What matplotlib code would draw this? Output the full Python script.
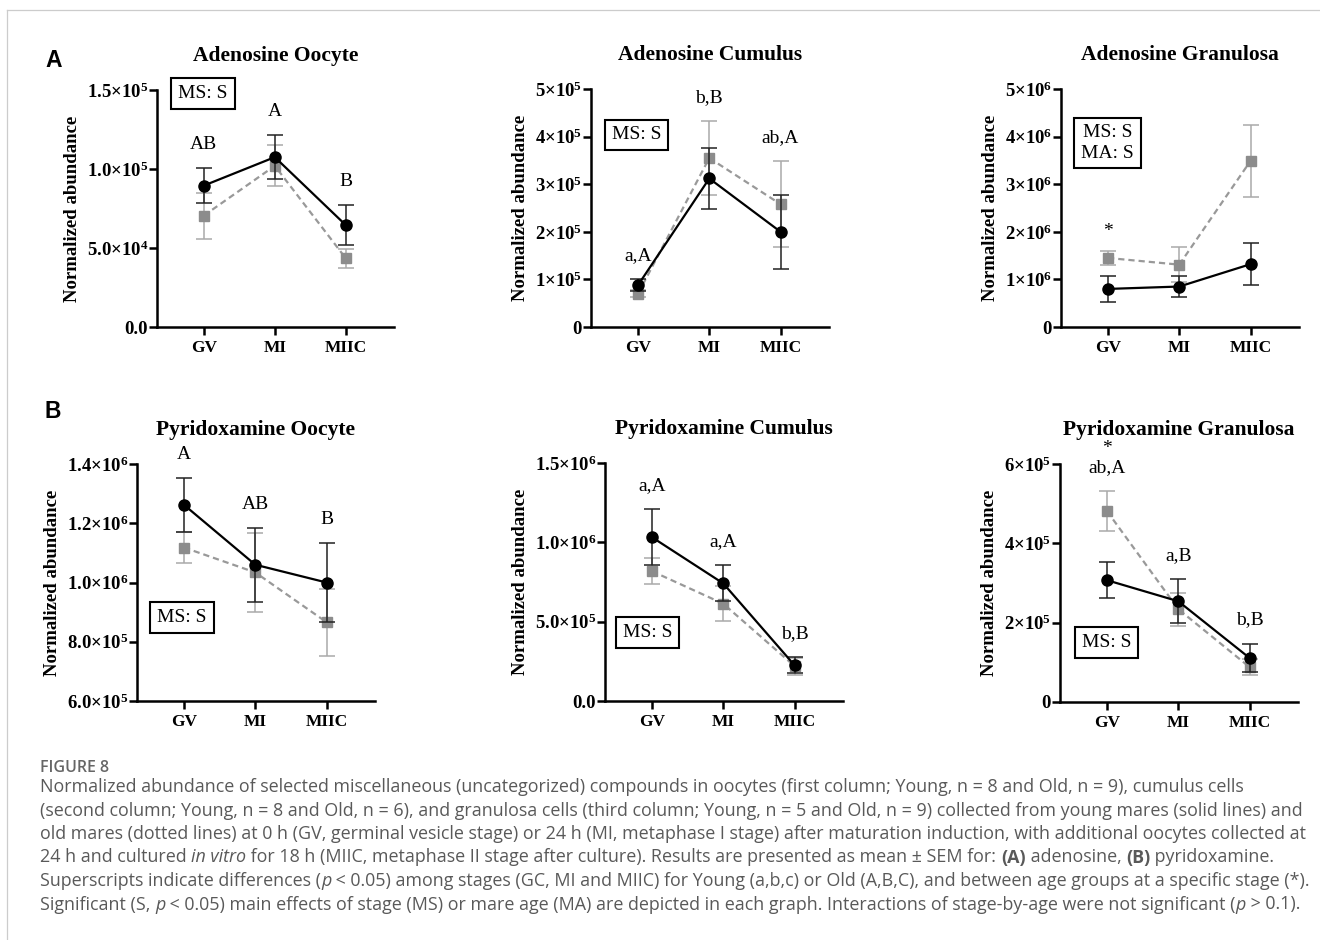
import numpy as np
import matplotlib
matplotlib.use('Agg')
import matplotlib.pyplot as plt
from matplotlib.lines import Line2D

plt.rcParams.update({
    'font.family': 'Liberation Serif',
    'mathtext.fontset': 'custom',
    'mathtext.rm': 'Liberation Serif:bold',
    'mathtext.it': 'Liberation Serif:bold:italic',
    'mathtext.bf': 'Liberation Serif:bold',
})

W, H = 1320, 940
stages = ['GV', 'MI', 'MIIC']

# ---- data (mean, SEM) ----
ado_oocyte_young = [89.5e3, 107.5e3, 64.5e3]
ado_oocyte_young_sem = [11e3, 14e3, 12.5e3]
ado_oocyte_old = [70.5e3, 102e3, 43.5e3]
ado_oocyte_old_sem = [14.5e3, 13e3, 6e3]

ado_cumulus_young = [88e3, 312e3, 200e3]
ado_cumulus_young_sem = [13e3, 65e3, 78e3]
ado_cumulus_old = [70e3, 355e3, 258e3]
ado_cumulus_old_sem = [8e3, 77e3, 90e3]

ado_granulosa_young = [0.80e6, 0.85e6, 1.32e6]
ado_granulosa_young_sem = [0.27e6, 0.22e6, 0.44e6]
ado_granulosa_old = [1.45e6, 1.31e6, 3.49e6]
ado_granulosa_old_sem = [0.15e6, 0.37e6, 0.76e6]

pyr_oocyte_young = [1.262e6, 1.060e6, 1.000e6]
pyr_oocyte_young_sem = [0.090e6, 0.125e6, 0.133e6]
pyr_oocyte_old = [1.118e6, 1.034e6, 0.866e6]
pyr_oocyte_old_sem = [0.052e6, 0.133e6, 0.113e6]

pyr_cumulus_young = [1.032e6, 0.741e6, 0.225e6]
pyr_cumulus_young_sem = [0.175e6, 0.113e6, 0.050e6]
pyr_cumulus_old = [0.818e6, 0.613e6, 0.220e6]
pyr_cumulus_old_sem = [0.082e6, 0.110e6, 0.053e6]

pyr_granulosa_young = [307e3, 254e3, 111e3]
pyr_granulosa_young_sem = [46e3, 55e3, 36e3]
pyr_granulosa_old = [481e3, 234e3, 88e3]
pyr_granulosa_old_sem = [50e3, 42e3, 20e3]

# y ticks and labels
ado_oocyte_ticks = [0, 5e4, 1e5, 1.5e5]
ado_oocyte_labels = ['0.0', '5.0×10$^{4}$', '1.0×10$^{5}$', '1.5×10$^{5}$']
ado_cumulus_ticks = [0, 1e5, 2e5, 3e5, 4e5, 5e5]
ado_cumulus_labels = ['0', '1×10$^{5}$', '2×10$^{5}$', '3×10$^{5}$', '4×10$^{5}$', '5×10$^{5}$']
ado_granulosa_ticks = [0, 1e6, 2e6, 3e6, 4e6, 5e6]
ado_granulosa_labels = ['0', '1×10$^{6}$', '2×10$^{6}$', '3×10$^{6}$', '4×10$^{6}$', '5×10$^{6}$']
pyr_oocyte_ticks = [6e5, 8e5, 1.0e6, 1.2e6, 1.4e6]
pyr_oocyte_labels = ['6.0×10$^{5}$', '8.0×10$^{5}$', '1.0×10$^{6}$', '1.2×10$^{6}$', '1.4×10$^{6}$']
pyr_cumulus_ticks = [0, 5e5, 1.0e6, 1.5e6]
pyr_cumulus_labels = ['0.0', '5.0×10$^{5}$', '1.0×10$^{6}$', '1.5×10$^{6}$']
pyr_granulosa_ticks = [0, 2e5, 4e5, 6e5]
pyr_granulosa_labels = ['0', '2×10$^{5}$', '4×10$^{5}$', '6×10$^{5}$']

# significance letters and stars per stage
ado_oocyte_letters = ['AB', 'A', 'B']
ado_cumulus_letters = ['a,A', 'b,B', 'ab,A']
ado_granulosa_letters = ['', '', '']
pyr_oocyte_letters = ['A', 'AB', 'B']
pyr_cumulus_letters = ['a,A', 'a,A', 'b,B']
pyr_granulosa_letters = ['ab,A', 'a,B', 'b,B']
ado_granulosa_stars = [True, False, False]
pyr_granulosa_stars = [True, False, False]
no_stars = [False, False, False]

panels = [
    ('Adenosine Oocyte', ado_oocyte_young, ado_oocyte_young_sem, ado_oocyte_old, ado_oocyte_old_sem,
     ado_oocyte_ticks, ado_oocyte_labels, ado_oocyte_letters, no_stars, 'MS: S'),
    ('Adenosine Cumulus', ado_cumulus_young, ado_cumulus_young_sem, ado_cumulus_old, ado_cumulus_old_sem,
     ado_cumulus_ticks, ado_cumulus_labels, ado_cumulus_letters, no_stars, 'MS: S'),
    ('Adenosine Granulosa', ado_granulosa_young, ado_granulosa_young_sem, ado_granulosa_old, ado_granulosa_old_sem,
     ado_granulosa_ticks, ado_granulosa_labels, ado_granulosa_letters, ado_granulosa_stars, 'MS: S\nMA: S'),
    ('Pyridoxamine Oocyte', pyr_oocyte_young, pyr_oocyte_young_sem, pyr_oocyte_old, pyr_oocyte_old_sem,
     pyr_oocyte_ticks, pyr_oocyte_labels, pyr_oocyte_letters, no_stars, 'MS: S'),
    ('Pyridoxamine Cumulus', pyr_cumulus_young, pyr_cumulus_young_sem, pyr_cumulus_old, pyr_cumulus_old_sem,
     pyr_cumulus_ticks, pyr_cumulus_labels, pyr_cumulus_letters, no_stars, 'MS: S'),
    ('Pyridoxamine Granulosa', pyr_granulosa_young, pyr_granulosa_young_sem, pyr_granulosa_old, pyr_granulosa_old_sem,
     pyr_granulosa_ticks, pyr_granulosa_labels, pyr_granulosa_letters, pyr_granulosa_stars, 'MS: S'),
]

# layout in pixels: left, top, width, height of each plot area; stats box centre (axes fraction)
rects = [(157, 90, 237, 237), (591, 89, 238, 238), (1061, 89, 238, 238),
         (137, 464, 238, 237), (605, 463, 238, 238), (1060, 464, 238, 238)]
box_pos = [(0.194, 0.985), (0.191, 0.807), (0.195, 0.773),
           (0.189, 0.352), (0.179, 0.289), (0.195, 0.249)]

fig = plt.figure(figsize=(W / 100, H / 100), dpi=100)

for (title, ym, ys, om, osem, ticks, tlabels, letters, stars, stats), r, bp in zip(panels, rects, box_pos):
    l, t, w, h = r
    ax = fig.add_axes([l / W, 1 - (t + h) / H, w / W, h / H])
    x = np.arange(len(stages))
    ax.errorbar(x, om, yerr=osem, fmt='none', ecolor='#aaaaaa', elinewidth=1.1,
                capsize=6, capthick=1.1, zorder=2, clip_on=False)
    ax.plot(x, om, color='#999999', ls=(0, (2.8, 1.8)), lw=1.6, marker='s', ms=7,
            mfc='#8c8c8c', mec='#8c8c8c', zorder=3, clip_on=False)
    ax.errorbar(x, ym, yerr=ys, fmt='none', ecolor='#222222', elinewidth=1.1,
                capsize=6, capthick=1.1, zorder=4, clip_on=False)
    ax.plot(x, ym, color='black', lw=1.6, marker='o', ms=8, zorder=5, clip_on=False)

    ax.set_xlim(-0.66, 2.68)
    ax.set_ylim(ticks[0], ticks[-1])
    ax.set_xticks(x, stages)
    ax.set_yticks(ticks, tlabels)
    for s in ['top', 'right']:
        ax.spines[s].set_visible(False)
    for s in ['left', 'bottom']:
        ax.spines[s].set_linewidth(1.8)
    ax.tick_params(axis='both', width=1.8, length=5.5)
    ax.tick_params(axis='y', pad=1, labelsize=13.5)
    ax.tick_params(axis='x', pad=4, labelsize=12.5)
    for lab in ax.get_xticklabels() + ax.get_yticklabels():
        lab.set_fontweight('bold')
    ax.set_title(title, fontsize=15.5, fontweight='bold', pad=21)
    ax.set_ylabel('Normalized abundance', fontsize=13.5, fontweight='bold', labelpad=4)

    # significance letters above highest error bar
    for i in range(len(stages)):
        top = max(ym[i] + ys[i], om[i] + osem[i])
        if letters[i]:
            ax.annotate(letters[i], xy=(i, top), xytext=(0, 17), textcoords='offset points',
                        ha='center', va='center', fontsize=14, annotation_clip=False)
        if stars[i]:
            off = 31 if letters[i] else 14
            ax.annotate('*', xy=(i, top), xytext=(0, off), textcoords='offset points',
                        ha='center', va='center', fontsize=14, annotation_clip=False)

    ax.text(bp[0], bp[1], stats, transform=ax.transAxes, ha='center', va='center',
            fontsize=14, linespacing=1.25,
            bbox=dict(boxstyle='square,pad=0.35', fc='white', ec='black', lw=1.5))

# panel letters
fig.text(45 / W, 1 - 67 / H, 'A', family='Liberation Sans', weight='bold', fontsize=16.5, va='baseline')
fig.text(44 / W, 1 - 418 / H, 'B', family='Liberation Sans', weight='bold', fontsize=16.5, va='baseline')

# page frame
fig.add_artist(Line2D([7 / W, 7 / W], [0, 1 - 10 / H], transform=fig.transFigure, color='#cccccc', lw=0.9))
fig.add_artist(Line2D([7 / W, 1], [1 - 10 / H, 1 - 10 / H], transform=fig.transFigure, color='#cccccc', lw=0.9))

# caption
caption = [
    [('Normalized abundance of selected miscellaneous (uncategorized) compounds in oocytes (first column; Young, n = 8 and Old, n = 9), cumulus cells', 'n')],
    [('(second column; Young, n = 8 and Old, n = 6), and granulosa cells (third column; Young, n = 5 and Old, n = 9) collected from young mares (solid lines) and', 'n')],
    [('old mares (dotted lines) at 0 h (GV, germinal vesicle stage) or 24 h (MI, metaphase I stage) after maturation induction, with additional oocytes collected at', 'n')],
    [('24 h and cultured ', 'n'), ('in vitro', 'i'), (' for 18 h (MIIC, metaphase II stage after culture). Results are presented as mean ± SEM for: ', 'n'),
     ('(A)', 'b'), (' adenosine, ', 'n'), ('(B)', 'b'), (' pyridoxamine.', 'n')],
    [('Superscripts indicate differences (', 'n'), ('p', 'i'), (' < 0.05) among stages (GC, MI and MIIC) for Young (a,b,c) or Old (A,B,C), and between age groups at a specific stage (*).', 'n')],
    [('Significant (S, ', 'n'), ('p', 'i'), (' < 0.05) main effects of stage (MS) or mare age (MA) are depicted in each graph. Interactions of stage-by-age were not significant (', 'n'),
     ('p', 'i'), (' > 0.1).', 'n')],
]
renderer = fig.canvas.get_renderer()


def style_kw(st, size):
    kw = dict(family='Open Sans', color='#595959', fontsize=size)
    if st == 'i':
        kw['style'] = 'italic'
    if st == 'b':
        kw['weight'] = 'bold'
    return kw


def width_px(s, kw):
    t1 = fig.text(0, 0, '|' + s + '|', **kw)
    t2 = fig.text(0, 0, '||', **kw)
    wdt = t1.get_window_extent(renderer).width - t2.get_window_extent(renderer).width
    t1.remove()
    t2.remove()
    return wdt


# fit caption size so the longest line ends near the right margin
x0 = 40
base = 10
longest = max(sum(width_px(s, style_kw(st, base)) for s, st in line) for line in caption)
cap_size = base * (1310 - x0) / longest

fig.text(x0 / W, 1 - 772 / H, 'FIGURE 8', family='Open Sans', weight='semibold',
         color='#666666', fontsize=cap_size * 0.9, va='baseline')
for k, line in enumerate(caption):
    yb = 792 + k * 23.5
    xp = x0
    for s, st in line:
        kw = style_kw(st, cap_size)
        fig.text(xp / W, 1 - yb / H, s, va='baseline', **kw)
        xp += width_px(s, kw)

fig.savefig('out.png', dpi=100, facecolor='white')
